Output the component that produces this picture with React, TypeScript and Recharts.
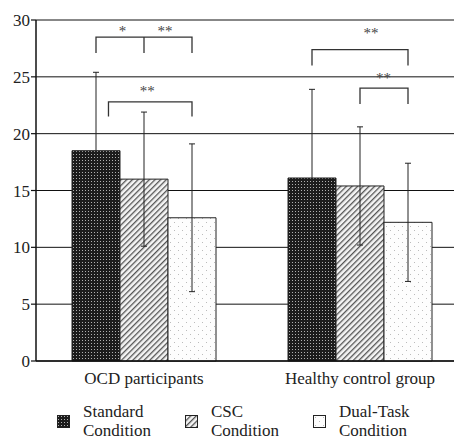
import { BarChart, Bar, XAxis, YAxis, CartesianGrid, ErrorBar, Legend, Customized } from 'recharts';

const groups = ['OCD participants', 'Healthy control group'];
const standardMean = [18.5, 16.1];
const standardSd = [6.9, 7.8];
const cscMean = [16.0, 15.4];
const cscSd = [5.9, 5.2];
const dualMean = [12.6, 12.2];
const dualSd = [6.5, 5.2];
const yTicks = [0, 5, 10, 15, 20, 25, 30];

const legendLabels = [
    ['Standard', 'Condition'],
    ['CSC', 'Condition'],
    ['Dual-Task', 'Condition'],
];
const legendFills = ['url(#patStandard)', 'url(#patCsc)', 'url(#patDual)'];

// significance brackets: bar slots (0..2) inside a group, heights in data units
const brackets = [
    { group: 0, from: 0, to: 2, mid: 1, y: 28.5, legY: 27.1 },
    { group: 0, from: 0.26, to: 2, mid: null, y: 22.8, legY: 21.5 },
    { group: 1, from: 0, to: 2, mid: null, y: 27.4, legY: 26.0 },
    { group: 1, from: 1, to: 2, mid: null, y: 24.0, legY: 22.6 },
];
const stars = [
    { group: 0, at: 0.55, y: 29.3, text: '*' },
    { group: 0, at: 1.44, y: 29.3, text: '**' },
    { group: 0, at: 1.07, y: 24.0, text: '**' },
    { group: 1, at: 1.23, y: 29.1, text: '**' },
    { group: 1, at: 1.49, y: 25.2, text: '**' },
];

const data = groups.map((g, i) => ({
    group: g,
    standard: standardMean[i],
    standardErr: standardSd[i],
    csc: cscMean[i],
    cscErr: cscSd[i],
    dual: dualMean[i],
    dualErr: dualSd[i],
}));

const W = 470;
const H = 445;
const M = { top: 20, right: 2, bottom: 0, left: 0 };
const Y_AXIS_W = 36;
const X_AXIS_H = 40;
const LEGEND_H = 44;
const CAT_GAP = 36;
const FONT = 'Liberation Serif, Tinos, Times, DejaVu Serif, serif';

const plotLeft = M.left + Y_AXIS_W;
const plotRight = W - M.right;
const plotTop = M.top;
const plotBottom = H - M.bottom - LEGEND_H - X_AXIS_H;
const band = (plotRight - plotLeft) / groups.length;
const barW = (band - 2 * CAT_GAP) / 3;

const sx = (group: number, slot: number) => plotLeft + band * (group + 0.5) + (slot - 1) * barW;
const sy = (v: number) => plotBottom - (v / 30) * (plotBottom - plotTop);

function Patterns() {
    return (
        <defs>
            <pattern id="patStandard" width="3" height="3" patternUnits="userSpaceOnUse">
                <rect width="3" height="3" fill="#1c1c1c" />
                <rect x="1" y="1" width="1" height="1" fill="#b0b0b0" />
            </pattern>
            <pattern id="patCsc" width="4" height="4" patternUnits="userSpaceOnUse" patternTransform="rotate(45)">
                <rect width="4" height="4" fill="#f4f4f4" />
                <rect width="1.3" height="4" fill="#555" />
            </pattern>
            <pattern id="patDual" width="8" height="8" patternUnits="userSpaceOnUse">
                <rect width="8" height="8" fill="#fdfdfd" />
                <rect x="2" y="2" width="1" height="1" fill="#bbb" />
                <rect x="6" y="6" width="1" height="1" fill="#bbb" />
            </pattern>
        </defs>
    );
}

function Annotations() {
    return (
        <g stroke="#333" strokeWidth={1.3} fill="none">
            {brackets.map((b, i) => {
                const x1 = sx(b.group, b.from);
                const x2 = sx(b.group, b.to);
                const y = sy(b.y);
                const ly = sy(b.legY);
                return (
                    <g key={i}>
                        <path d={`M${x1},${ly} V${y} H${x2} V${ly}`} />
                        {b.mid !== null && <line x1={sx(b.group, b.mid)} x2={sx(b.group, b.mid)} y1={y} y2={ly} />}
                    </g>
                );
            })}
            {stars.map((s, i) => (
                <text
                    key={i}
                    x={sx(s.group, s.at)}
                    y={sy(s.y) + 8}
                    textAnchor="middle"
                    fontSize={15}
                    fontFamily={FONT}
                    fill="#444"
                    stroke="none"
                >
                    {s.text}
                </text>
            ))}
        </g>
    );
}

function LegendBox() {
    return (
        <div style={{ position: 'relative', width: W, height: LEGEND_H, fontFamily: FONT, fontSize: 17, color: '#222' }}>
            {legendLabels.map((lines, i) => (
                <div key={i}>
                    <svg
                        width={13}
                        height={13}
                        style={{ position: 'absolute', left: 57 + i * 128, top: 14 }}
                    >
                        <rect x={0.5} y={0.5} width={12} height={12} fill={legendFills[i]} stroke="#222" />
                    </svg>
                    <div style={{ position: 'absolute', left: 83 + i * 128, top: 1, lineHeight: '19px', whiteSpace: 'nowrap' }}>
                        {lines[0]}
                        <br />
                        {lines[1]}
                    </div>
                </div>
            ))}
        </div>
    );
}

export default function App() {
    return (
        <div style={{ position: 'absolute', left: 0, top: 0, width: 454, height: 439, overflow: 'hidden', background: '#fff' }}>
            <BarChart width={W} height={H} data={data} margin={M} barGap={0} barCategoryGap={CAT_GAP}>
                <Patterns />
                <CartesianGrid vertical={false} stroke="#111" strokeWidth={1} />
                <XAxis
                    dataKey="group"
                    height={X_AXIS_H}
                    tickLine={false}
                    tickMargin={5}
                    axisLine={{ stroke: '#111', strokeWidth: 1.5 }}
                    tick={{ fontSize: 17, fontFamily: FONT, fill: '#222' }}
                />
                <YAxis
                    width={Y_AXIS_W}
                    domain={[0, 30]}
                    ticks={yTicks}
                    interval={0}
                    tickSize={5}
                    tickMargin={1}
                    axisLine={{ stroke: '#111', strokeWidth: 1.5 }}
                    tickLine={{ stroke: '#111', strokeWidth: 1.2 }}
                    tick={{ fontSize: 17, fontFamily: FONT, fill: '#222' }}
                />
                <Legend
                    verticalAlign="bottom"
                    height={LEGEND_H}
                    content={() => <LegendBox />}
                    wrapperStyle={{ left: 0, width: W, height: LEGEND_H }}
                />
                <Bar dataKey="standard" fill="url(#patStandard)" stroke="#222" strokeWidth={1} isAnimationActive={false}>
                    <ErrorBar dataKey="standardErr" width={3} stroke="#222" strokeWidth={1} />
                </Bar>
                <Bar dataKey="csc" fill="url(#patCsc)" stroke="#222" strokeWidth={1} isAnimationActive={false}>
                    <ErrorBar dataKey="cscErr" width={3} stroke="#222" strokeWidth={1} />
                </Bar>
                <Bar dataKey="dual" fill="url(#patDual)" stroke="#222" strokeWidth={1} isAnimationActive={false}>
                    <ErrorBar dataKey="dualErr" width={3} stroke="#222" strokeWidth={1} />
                </Bar>
                <Customized component={<Annotations />} />
            </BarChart>
        </div>
    );
}
